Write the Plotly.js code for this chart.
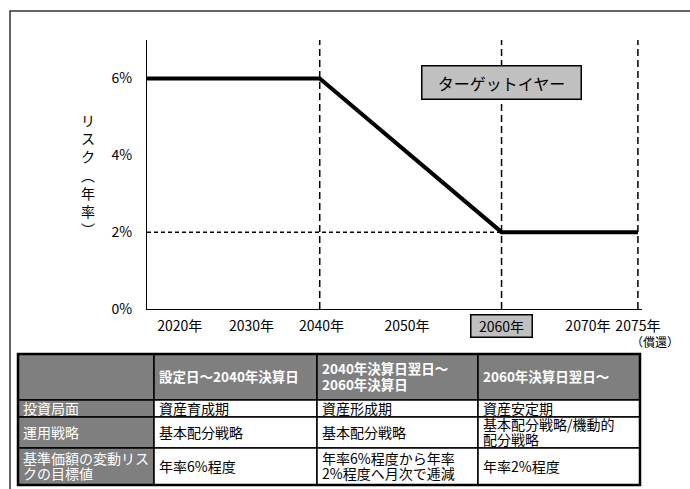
<!DOCTYPE html>
<html>
<head>
<meta charset="utf-8">
<script src="https://cdn.plot.ly/plotly-3.0.1.min.js"></script>
<style>html,body{margin:0;padding:0;background:#fff;}#chart{width:690px;height:489px;}</style>
</head>
<body>
<div id="chart"></div>
<script>
// ---- data ----
const years = [2021, 2040, 2060, 2075];
const riskPct = [6, 6, 2, 2];
const xTickLabels = ["2020年", "2030年", "2040年", "2050年", "2060年", "2070年", "2075年"];
const redemptionNote = "（償還）";
const yTickVals = [0, 2, 4, 6];
const yTickLabels = ["0%", "2%", "4%", "6%"];
const targetYear = 2060;
const targetLabel = "ターゲットイヤー";
const floorRisk = 2;
const yTitleChars = ["リ", "ス", "ク", "︵", "年", "率", "︶"];

const tableHeader = ["", "設定日～2040年決算日", "2040年決算日翌日～<br>2060年決算日", "2060年決算日翌日～"];
const rowLabels = ["投資局面", "運用戦略", "基準価額の変動リス<br>クの目標値"];
const phase1 = ["資産育成期", "基本配分戦略", "年率6%程度"];
const phase2 = ["資産形成期", "基本配分戦略", "年率6%程度から年率<br>2%程度へ月次で逓減"];
const phase3 = ["資産安定期", "基本配分戦略/機動的<br>配分戦略", "年率2%程度"];

// ---- style / layout constants ----
const W = 690, H = 489;
const M = {l: 147, r: 48, t: 40, b: 180};
const PW = W - M.l - M.r, PH = H - M.t - M.b;
const px2x = p => (p - M.l) / PW;
const py2y = p => (H - M.b - p) / PH;
const xTickPos = [2024.6, 2032.5, 2040.2, 2049.6, 2060, 2069.5, 2075];
const colEdges = [18, 154, 317, 478, 640];
const rowEdges = [354, 400, 417, 448, 485];
const LINE_GAP = 15.5;
const GRAY = "#7f7f7f";
const BOX = "#c0c0c0";
const FONT = "'Liberation Sans Narrow', 'Noto Sans CJK JP', sans-serif";
const JFONT = "'Noto Sans CJK JP', sans-serif";

const shapes = [];
const annotations = [];

// dashed guide lines
years.slice(1).forEach(yr => {
  shapes.push({type: "line", xref: "x", yref: "y", x0: yr, x1: yr, y0: 0, y1: 7,
    line: {color: "#000", width: 1.5, dash: "7px,4px"}, layer: "below"});
});
shapes.push({type: "line", xref: "x", yref: "y", x0: years[0], x1: years[years.length - 1], y0: floorRisk, y1: floorRisk,
  line: {color: "#000", width: 1.5, dash: "4px,3px"}, layer: "below"});

// outer frame
shapes.push({type: "rect", xref: "paper", yref: "paper", x0: px2x(10), x1: px2x(705), y0: py2y(11), y1: py2y(500),
  line: {color: "#333", width: 1.5}, fillcolor: "rgba(0,0,0,0)", layer: "below"});

// target year box
annotations.push({xref: "x", yref: "y", x: targetYear, y: 5.9, text: targetLabel, showarrow: false,
  font: {family: JFONT, size: 16, color: "#000"}, bgcolor: BOX, bordercolor: "#000", borderwidth: 1.5,
  borderpad: 4, width: 150, height: 24});

// 2060 boxed tick label
annotations.push({xref: "x", yref: "paper", x: targetYear, y: py2y(326), yanchor: "middle",
  text: xTickLabels[4], showarrow: false, font: {family: FONT, size: 14, color: "#000"},
  bgcolor: BOX, bordercolor: "#000", borderwidth: 1.5, borderpad: 1, width: 58, height: 19});

// redemption note
annotations.push({xref: "x", yref: "paper", x: 2075, xshift: 17, y: py2y(341), yanchor: "middle",
  text: redemptionNote, showarrow: false, font: {family: JFONT, size: 12, color: "#000"}});

// y title (vertical)
annotations.push({xref: "paper", yref: "paper", x: px2x(88), y: py2y(174), xanchor: "center", yanchor: "middle",
  text: yTitleChars.join("<br>"), showarrow: false, font: {family: JFONT, size: 14, color: "#000"}});

// table text helper: lines placed with a fixed gap
function cellText(text, c, yTop, yBot, font, bold) {
  const lines = text.split("<br>");
  const yc = (yTop + yBot) / 2 - 1;
  lines.forEach((ln, i) => {
    annotations.push({xref: "paper", yref: "paper", x: px2x(colEdges[c] + 3), xanchor: "left",
      y: py2y(yc + (i - (lines.length - 1) / 2) * LINE_GAP), yanchor: "middle", align: "left",
      text: bold ? "<b>" + ln + "</b>" : ln, showarrow: false, font: font});
  });
}

// table
const columns = [rowLabels, phase1, phase2, phase3];
for (let c = 0; c < 4; c++) {
  shapes.push({type: "rect", xref: "paper", yref: "paper",
    x0: px2x(colEdges[c]), x1: px2x(colEdges[c + 1]), y0: py2y(rowEdges[0]), y1: py2y(rowEdges[1]),
    fillcolor: GRAY, line: {color: "#000", width: 1.5}, layer: "above"});
  if (tableHeader[c]) {
    cellText(tableHeader[c], c, rowEdges[0], rowEdges[1], {family: JFONT, size: 13.5, color: "#fff"}, true);
  }
  for (let r = 0; r < 3; r++) {
    shapes.push({type: "rect", xref: "paper", yref: "paper",
      x0: px2x(colEdges[c]), x1: px2x(colEdges[c + 1]), y0: py2y(rowEdges[r + 1]), y1: py2y(rowEdges[r + 2]),
      fillcolor: c === 0 ? GRAY : "#fff", line: {color: "#000", width: 1.5}, layer: "above"});
    cellText(columns[c][r], c, rowEdges[r + 1], rowEdges[r + 2],
      {family: JFONT, size: 14, color: c === 0 ? "#fff" : "#000"}, false);
  }
}
shapes.push({type: "rect", xref: "paper", yref: "paper", x0: px2x(colEdges[0]), x1: px2x(colEdges[4]),
  y0: py2y(rowEdges[0]), y1: py2y(rowEdges[4]), line: {color: "#000", width: 2.5},
  fillcolor: "rgba(0,0,0,0)", layer: "above"});

const trace = {
  x: years, y: riskPct, type: "scatter", mode: "lines",
  line: {color: "#000", width: 4}, hoverinfo: "skip", cliponaxis: false
};

const layout = {
  width: W, height: H, margin: M,
  paper_bgcolor: "#fff", plot_bgcolor: "#fff", showlegend: false,
  xaxis: {range: [2021, 2075.45], showgrid: false, zeroline: false, showline: true,
    linecolor: "#000", linewidth: 1, ticks: "", tickvals: xTickPos,
    ticktext: xTickLabels.map((t, i) => i === 4 ? "" : t), ticklabelstandoff: 4,
    tickfont: {family: FONT, size: 14, color: "#000"}, fixedrange: true},
  yaxis: {range: [0, 7], showgrid: false, zeroline: false, showline: true,
    linecolor: "#000", linewidth: 1, ticks: "", tickvals: yTickVals, ticktext: yTickLabels,
    ticklabelstandoff: 11, tickfont: {family: FONT, size: 14, color: "#000"}, fixedrange: true},
  shapes: shapes, annotations: annotations
};

Plotly.newPlot("chart", [trace], layout, {displayModeBar: false, staticPlot: true});
</script>
</body>
</html>
